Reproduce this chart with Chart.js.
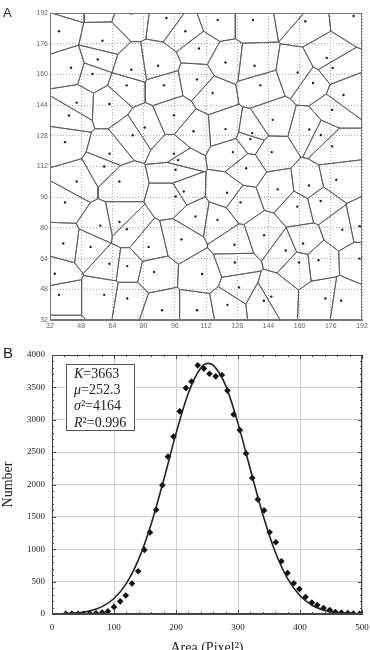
<!DOCTYPE html>
<html>
<head>
<meta charset="utf-8">
<script src="https://cdn.jsdelivr.net/npm/chart.js@4.4.1/dist/chart.umd.min.js"></script>
<style>
  html, body { margin: 0; padding: 0; background: #fff; overflow: hidden; }
  canvas { display: block; }
</style>
</head>
<body>
<canvas id="voronoi" width="370" height="335"></canvas>
<canvas id="dist" width="370" height="322"></canvas>
<script>
// panel A: seed points of the tessellation (pixel coords)
const seedX = [
  36.6, 73.7, 91.7, 101.4, 58.9, 108.4, 56.5, 42.8, 53.8, 73.7, 87.4, 71.3, 90.4, 107.4, 45.7, 62.5, 41.7, 95.6, 80.6, 74.4, 105.6, 39.7, 62.5, 95.6, 97.7,
  118, 136.1, 162.9, 187.7, 157.9, 122, 136.9, 173.9, 177, 159, 115.4, 139.9, 166.9, 182.5, 176.7, 146.2, 122, 135.7, 134.7, 165, 170.9, 176.7, 125.8, 145.7,
  59.8, 96.4, 45.7, 67.6, 100.6, 96.4, 39.7, 106.6, 67.6, 57.8, 71.4, 99.4, 38.8, 52.8, 82.6, 62.5, 71.6, 34.5, 85.4, 110, 36.6, 59.8, 71.6, 89.5, 107.4,
  132.6, 122.8, 148.8, 164.8, 178.8, 129.7, 158.8, 170.8, 117.9, 141.8, 181.9, 190.8, 126.6, 152.9, 161.8, 169.7, 126.8, 159.7, 190.7, 128.9, 145.5, 141.7, 123, 173.2, 181.3
];
const seedY = [
  182.5, 191.7, 189.4, 182.5, 177.5, 173.5, 167.8, 163.5, 160.2, 162.4, 164.5, 154.3, 154.3, 157.4, 145.3, 144.6, 138.6, 138.7, 132.3, 128.3, 130.4, 124.7, 118.7, 118.7, 115.4,
  188.4, 188.4, 187.7, 190.4, 192, 166.2, 164.5, 168.6, 163.4, 161, 150.3, 154.3, 155.5, 149.3, 141.5, 136.3, 131.5, 129.4, 126.3, 131.3, 128.4, 122.5, 119.5, 119.5,
  112, 110.3, 104.2, 104.2, 99, 96.4, 93.3, 86, 83.1, 81.2, 79.3, 74, 71.9, 70.1, 70.1, 61.3, 60.1, 56.1, 57, 56, 45.1, 45.1, 43.2, 37.1, 37.1,
  111.1, 98.3, 100.1, 102.1, 105.1, 93.3, 91.1, 94, 84.2, 76.2, 79.1, 80.9, 71.2, 68.2, 71.9, 63.2, 62, 62, 64, 49, 44.2, 42, 39.9, 43.2, 42
];
// seeds just outside the window (their cells are only partly visible)
const edgeSeedX = [41.3, 58.5, 36.6, 98];
const edgeSeedY = [197.7, 197, 23.9, 22];
const gridTicksA = [32, 48, 64, 80, 96, 112, 128, 144, 160, 176, 192];

// panel B: cell area histogram and gaussian fit
const areaBins = [22, 32, 42, 51, 61, 71, 81, 90, 100, 110, 119, 129, 139, 149, 158, 168, 178, 187, 196, 206,
  216, 225, 235, 245, 254, 264, 274, 283, 293, 303, 313, 323, 332, 342, 351, 361, 370, 380, 390, 399,
  409, 419, 428, 438, 448, 457, 467, 477, 486, 496];
const cellCounts = [2, 3, 4, 5, 8, 12, 22, 40, 110, 195, 285, 470, 660, 990, 1260, 1610, 1990, 2430, 2740, 3130,
  3490, 3590, 3840, 3790, 3710, 3670, 3690, 3450, 3080, 2840, 2480, 2100, 1770, 1600, 1263, 1108, 814, 634, 474, 387,
  263, 175, 139, 93, 62, 30, 21, 15, 6, 2];
const fitX = [20, 40, 60, 80, 100, 120, 140, 160, 180, 200, 220, 240, 252, 260, 280, 300, 320, 340, 360, 380, 400, 420, 440, 460, 480, 495];
const fitY = [6, 17, 46, 110, 239, 473, 851, 1391, 2066, 2786, 3414, 3800, 3870, 3843, 3530, 2944, 2232, 1537, 961, 546, 282, 132, 56, 22, 8, 3];
const fitLabels = [['K', '=3663'], ['\u03bc', '=252.3'], ['\u03c3', '\u00b2=4164'], ['R', '\u00b2=0.996']];

// clip polygon to half plane a*x + b*y <= c
function clipHalf(poly, a, b, c) {
  const out = [];
  for (let i = 0; i < poly.length; i++) {
    const p = poly[i], q = poly[(i + 1) % poly.length];
    const fp = a * p.x + b * p.y - c, fq = a * q.x + b * q.y - c;
    if (fp <= 0) out.push(p);
    if ((fp <= 0) !== (fq <= 0)) {
      const t = fp / (fp - fq);
      out.push({ x: p.x + t * (q.x - p.x), y: p.y + t * (q.y - p.y) });
    }
  }
  return out;
}

function voronoiCells() {
  const xs = seedX.concat(edgeSeedX), ys = seedY.concat(edgeSeedY);
  const cells = [];
  for (let i = 0; i < xs.length; i++) {
    let poly = [{ x: 32, y: 32 }, { x: 192, y: 32 }, { x: 192, y: 192 }, { x: 32, y: 192 }];
    for (let j = 0; j < xs.length && poly.length; j++) {
      if (i === j) continue;
      const a = xs[j] - xs[i], b = ys[j] - ys[i];
      const mx = (xs[i] + xs[j]) / 2, my = (ys[i] + ys[j]) / 2;
      poly = clipHalf(poly, a, b, a * mx + b * my);
    }
    if (poly.length) cells.push(poly.concat([poly[0]]));
  }
  return cells;
}

const frame = {
  id: 'frame',
  afterDraw(chart, args, opts) {
    const { ctx, chartArea: a } = chart;
    ctx.save();
    ctx.strokeStyle = opts.color;
    ctx.lineWidth = 1;
    ctx.strokeRect(Math.round(a.left) + 0.5, Math.round(a.top) + 0.5, Math.round(a.width) - 1, Math.round(a.height) - 1);
    ctx.restore();
  }
};

const panelLetter = {
  id: 'panelLetter',
  afterDraw(chart, args, opts) {
    const ctx = chart.ctx;
    ctx.save();
    ctx.fillStyle = '#222';
    ctx.font = opts.size + 'px "Liberation Sans", Arial, sans-serif';
    ctx.textBaseline = 'alphabetic';
    ctx.fillText(opts.text, opts.x, opts.y);
    ctx.restore();
  }
};

new Chart(document.getElementById('voronoi'), {
  type: 'scatter',
  data: {
    datasets: voronoiCells().map(cell => ({
      data: cell,
      showLine: true,
      borderColor: '#5a5a5a',
      borderWidth: 0.9,
      pointRadius: 0,
      fill: false
    })).concat([{
      data: seedX.map((x, i) => ({ x: x, y: seedY[i] })),
      pointRadius: 1.2,
      pointBackgroundColor: '#222',
      pointBorderWidth: 0
    }])
  },
  options: {
    responsive: false,
    animation: false,
    layout: { padding: { top: 13, right: 8, left: 0, bottom: 0 } },
    plugins: {
      legend: { display: false },
      tooltip: { enabled: false },
      frame: { color: '#777' },
      panelLetter: { text: 'A', x: 3, y: 17, size: 13 }
    },
    scales: {
      x: {
        type: 'linear', min: 32, max: 192,
        afterFit: s => { s.height = 15; s.paddingLeft = 0; s.paddingRight = 0; },
        afterBuildTicks: s => { s.ticks = gridTicksA.map(v => ({ value: v })); },
        ticks: { autoSkip: false, maxRotation: 0, padding: 2, color: '#666', font: { size: 7, family: '"Liberation Sans", Arial, sans-serif' } },
        grid: { color: '#aaa', drawTicks: false },
        border: { color: '#777', dash: [1, 2] }
      },
      y: {
        type: 'linear', min: 32, max: 192,
        afterFit: s => { s.width = 50; },
        afterBuildTicks: s => { s.ticks = gridTicksA.map(v => ({ value: v })); },
        ticks: { autoSkip: false, padding: 2, color: '#666', font: { size: 7, family: '"Liberation Sans", Arial, sans-serif' } },
        grid: { color: '#aaa', drawTicks: false },
        border: { color: '#777', dash: [1, 2] }
      }
    }
  },
  plugins: [frame, panelLetter]
});

const inwardTicks = {
  id: 'inwardTicks',
  afterDraw(chart) {
    const { ctx, chartArea: a, scales: { x, y } } = chart;
    ctx.save();
    ctx.strokeStyle = '#444';
    ctx.lineWidth = 1;
    ctx.beginPath();
    for (let v = 0; v <= 500; v += 20) {
      const px = Math.round(x.getPixelForValue(v)) + 0.5;
      const len = v % 100 === 0 ? 4 : 2;
      ctx.moveTo(px, a.bottom); ctx.lineTo(px, a.bottom - len);
      ctx.moveTo(px, a.top); ctx.lineTo(px, a.top + len);
    }
    for (let v = 0; v <= 4000; v += 100) {
      const py = Math.round(y.getPixelForValue(v)) + 0.5;
      const len = v % 500 === 0 ? 4 : 2;
      ctx.moveTo(a.left, py); ctx.lineTo(a.left + len, py);
      ctx.moveTo(a.right, py); ctx.lineTo(a.right - len, py);
    }
    ctx.stroke();
    ctx.restore();
  }
};

const fitBox = {
  id: 'fitBox',
  afterDraw(chart) {
    const ctx = chart.ctx;
    ctx.save();
    ctx.fillStyle = '#fff';
    ctx.fillRect(66, 29, 68, 66);
    ctx.strokeStyle = '#555';
    ctx.lineWidth = 1;
    ctx.strokeRect(66.5, 29.5, 68, 66);
    ctx.fillStyle = '#222';
    ctx.textBaseline = 'alphabetic';
    fitLabels.forEach((parts, i) => {
      const yy = 43 + i * 16.2;
      ctx.font = 'italic 14px "Liberation Serif", "Times New Roman", serif';
      ctx.fillText(parts[0], 74, yy);
      const w = ctx.measureText(parts[0]).width;
      ctx.font = '14px "Liberation Serif", "Times New Roman", serif';
      ctx.fillText(parts[1], 74 + w, yy);
    });
    ctx.restore();
  }
};

const serif = '"Liberation Serif", "Times New Roman", serif';

new Chart(document.getElementById('dist'), {
  data: {
    datasets: [{
      type: 'line',
      data: fitX.map((x, i) => ({ x: x, y: fitY[i] })),
      borderColor: '#222',
      borderWidth: 1.6,
      pointRadius: 0,
      cubicInterpolationMode: 'monotone',
      fill: false
    }, {
      type: 'scatter',
      data: areaBins.map((x, i) => ({ x: x, y: cellCounts[i] })),
      pointStyle: 'rectRot',
      pointRadius: 3.3,
      pointBackgroundColor: '#111',
      pointBorderColor: '#111',
      pointBorderWidth: 0
    }]
  },
  options: {
    responsive: false,
    animation: false,
    layout: { padding: { top: 20, right: 8, left: 0, bottom: 0 } },
    plugins: {
      legend: { display: false },
      tooltip: { enabled: false },
      frame: { color: '#444' },
      panelLetter: { text: 'B', x: 3, y: 23, size: 15 }
    },
    scales: {
      x: {
        type: 'linear', min: 0, max: 500,
        afterFit: s => { s.height = 43; s.paddingLeft = 0; s.paddingRight = 0; },
        ticks: { stepSize: 100, autoSkip: false, maxRotation: 0, padding: 8, color: '#222', font: { size: 9, family: serif },
          callback: v => String(v) },
        grid: { color: '#cfcfcf', drawTicks: false },
        border: { color: '#444' },
        title: { display: true, text: 'Area (Pixel\u00b2)', color: '#222', padding: 0, font: { size: 14, family: serif } }
      },
      y: {
        type: 'linear', min: 0, max: 4000,
        afterFit: s => { s.width = 52; },
        ticks: { stepSize: 500, autoSkip: false, padding: 7, color: '#222', font: { size: 9, family: serif },
          callback: v => String(v) },
        grid: { color: '#cfcfcf', drawTicks: false },
        border: { color: '#444' },
        title: { display: true, text: 'Number', color: '#222', padding: 0, font: { size: 14, family: serif } }
      }
    }
  },
  plugins: [frame, inwardTicks, fitBox, panelLetter]
});
</script>
</body>
</html>
